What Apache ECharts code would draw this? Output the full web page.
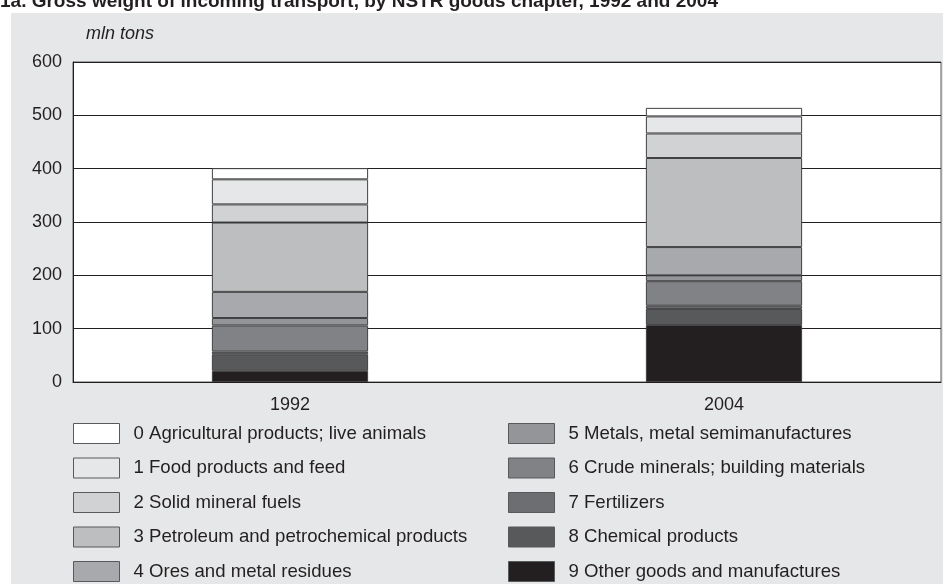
<!DOCTYPE html>
<html>
<head>
<meta charset="utf-8">
<script src="https://cdn.jsdelivr.net/npm/echarts@6/dist/echarts.min.js"></script>
<style>
  html, body { margin: 0; padding: 0; background: #fff; }
  #chart { width: 943px; height: 584px; }
</style>
</head>
<body>
<div id="chart"></div>
<script>
// years on the x axis
const years = ['1992', '2004'];

// NSTR goods chapters, in legend order
const chapters = [
  '0 Agricultural products; live animals',
  '1 Food products and feed',
  '2 Solid mineral fuels',
  '3 Petroleum and petrochemical products',
  '4 Ores and metal residues',
  '5 Metals, metal semimanufactures',
  '6 Crude minerals; building materials',
  '7 Fertilizers',
  '8 Chemical products',
  '9 Other goods and manufactures'
];

// mln tons per chapter, [1992, 2004]
const agri = [21, 16];
const food = [47, 32];
const solidFuels = [34, 46];
const petroleum = [130, 167];
const ores = [49, 53];
const metals = [14, 11];
const crudeMinerals = [49, 46];
const fertilizers = [5, 6];
const chemicals = [31, 30];
const otherGoods = [21, 107];

const yTicks = [0, 100, 200, 300, 400, 500, 600];

const values = [agri, food, solidFuels, petroleum, ores, metals, crudeMinerals, fertilizers, chemicals, otherGoods];
const colors = ['#ffffff', '#e6e7e8', '#d1d2d4', '#bcbec0', '#a7a9ac',
  '#939598', '#808285', '#6d6e71', '#58595b', '#231f20'];

const chart = echarts.init(document.getElementById('chart'));

// stack from chapter 9 at the bottom to chapter 0 on top
const series = [];
for (let i = chapters.length - 1; i >= 0; i--) {
  series.push({
    name: chapters[i],
    type: 'bar',
    stack: 'total',
    barWidth: '36%',
    data: values[i],
    itemStyle: {
      color: colors[i],
      borderColor: '#414042',
      borderWidth: 1
    }
  });
}

const legendCommon = {
  orient: 'vertical',
  padding: 0,
  height: 180,
  itemWidth: 46,
  itemHeight: 20,
  itemGap: 13.5,
  icon: 'rect',
  itemStyle: { borderColor: '#58595b', borderWidth: 1 },
  textStyle: {
    fontFamily: 'Liberation Sans, Arial, sans-serif',
    fontSize: 18.6,
    color: '#231f20',
    padding: [0, 0, 0, 9]
  },
  selectedMode: false
};

const option = {
  backgroundColor: '#fff',
  animation: false,
  textStyle: { fontFamily: 'Liberation Sans, Arial, sans-serif' },
  graphic: [{
    type: 'rect',
    shape: { x: 11, y: 13, width: 932, height: 571 },
    style: { fill: '#e6e7e8' },
    z: -10
  }, {
    type: 'text',
    left: 0,
    top: -8,
    style: {
      text: '1a. Gross weight of incoming transport, by NSTR goods chapter, 1992 and 2004',
      font: 'bold 19px Liberation Sans, Arial, sans-serif',
      fill: '#231f20'
    }
  }, {
    type: 'text',
    left: 86,
    top: 25,
    style: {
      text: 'mln tons',
      font: 'italic 18px Liberation Sans, Arial, sans-serif',
      fill: '#231f20'
    }
  }],
  grid: {
    left: 73,
    right: 2,
    top: 62,
    bottom: 202,
    show: true,
    backgroundColor: '#fff',
    borderColor: '#58595b',
    borderWidth: 1
  },
  xAxis: {
    type: 'category',
    data: years,
    axisTick: { show: false },
    axisLine: { lineStyle: { color: '#231f20', width: 1 } },
    axisLabel: { fontSize: 18, color: '#231f20', margin: 14 }
  },
  yAxis: {
    type: 'value',
    min: yTicks[0],
    max: yTicks[yTicks.length - 1],
    interval: 100,
    axisLine: { show: true, lineStyle: { color: '#231f20' } },
    axisTick: { show: false },
    axisLabel: { fontSize: 18, color: '#231f20', margin: 11 },
    splitLine: { lineStyle: { color: '#231f20', width: 1 } }
  },
  legend: [
    Object.assign({ left: 73, top: 423, data: chapters.slice(0, 5) }, legendCommon),
    Object.assign({ left: 508, top: 423, data: chapters.slice(5) }, legendCommon)
  ],
  series: series
};

option && chart.setOption(option);
</script>
</body>
</html>
